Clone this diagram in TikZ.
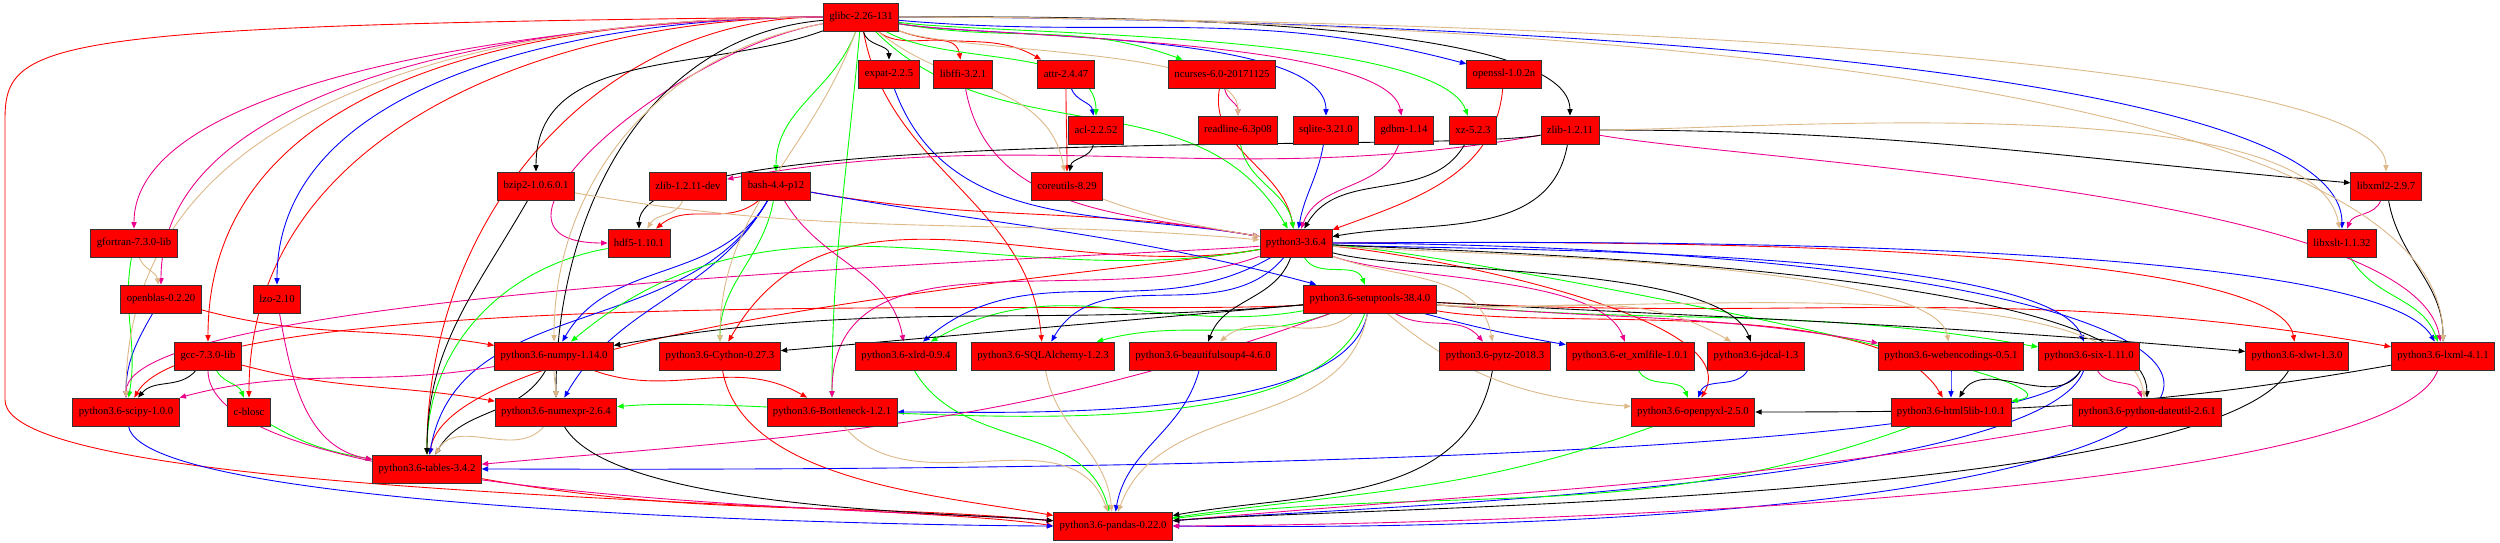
\documentclass[tikz,border=0pt]{standalone}
\usepackage{fontspec}
\setmainfont{Liberation Serif}
\usetikzlibrary{arrows.meta,backgrounds}
\definecolor{burly}{HTML}{DEB887}
\tikzset{
  pkg/.style={draw=black!80, fill=red, line width=0.2pt, minimum height=7pt,
    inner xsep=1.5pt, inner ysep=0.5pt, font=\fontsize{2.68}{3}\selectfont},
  dep/.style={-{Triangle[length=1.6pt,width=1.3pt]}, line width=0.22pt},
}
\begin{document}
\begin{tikzpicture}[x=0.25pt,y=-0.25pt]
    \useasboundingbox (0,0) rectangle (2500,543);

    % 1. Верхние уровни (glibc и системные библиотеки)
    \node[pkg] (glibc) at (861,17) {glibc-2.26-131};
    \node[pkg] (expat) at (889,74) {expat-2.2.5};
    \node[pkg] (libffi) at (963,74) {libffi-3.2.1};
    \node[pkg] (attr) at (1066,74) {attr-2.4.47};
    \node[pkg] (ncurses) at (1222,74) {ncurses-6.0-20171125};
    \node[pkg] (openssl) at (1504,74) {openssl-1.0.2n};
    \node[pkg] (acl) at (1096,130) {acl-2.2.52};
    \node[pkg] (readline) at (1238,130) {readline-6.3p08};
    \node[pkg] (sqlite) at (1326,130) {sqlite-3.21.0};
    \node[pkg] (gdbm) at (1404,130) {gdbm-1.14};
    \node[pkg] (xz) at (1473,130) {xz-5.2.3};
    \node[pkg] (zlib) at (1570,130) {zlib-1.2.11};
    \node[pkg] (bzip) at (536,186) {bzip2-1.0.6.0.1};
    \node[pkg] (zlibdev) at (688,186) {zlib-1.2.11-dev};
    \node[pkg] (bash) at (776,186) {bash-4.4-p12};
    \node[pkg] (coreutils) at (1067,186) {coreutils-8.29};
    \node[pkg] (libxml) at (2386,186) {libxml2-2.9.7};
    \node[pkg] (gfortran) at (134,243) {gfortran-7.3.0-lib};
    \node[pkg] (hdf) at (639,243) {hdf5-1.10.1};
    \node[pkg] (python) at (1296,243) {python3-3.6.4};
    \node[pkg] (libxslt) at (2342,243) {libxslt-1.1.32};
    \node[pkg] (openblas) at (161,299) {openblas-0.2.20};
    \node[pkg] (lzo) at (277,299) {lzo-2.10};
    \node[pkg] (setuptools) at (1370,299) {python3.6-setuptools-38.4.0};

    % 2. Пакеты python3.6
    \node[pkg] (gcc) at (208,356) {gcc-7.3.0-lib};
    \node[pkg] (numpy) at (554,356) {python3.6-numpy-1.14.0};
    \node[pkg] (cython) at (720,356) {python3.6-Cython-0.27.3};
    \node[pkg] (xlrd) at (906,356) {python3.6-xlrd-0.9.4};
    \node[pkg] (sqlalchemy) at (1043,356) {python3.6-SQLAlchemy-1.2.3};
    \node[pkg] (bsoup) at (1203,356) {python3.6-beautifulsoup4-4.6.0};
    \node[pkg] (pytz) at (1495,356) {python3.6-pytz-2018.3};
    \node[pkg] (etxml) at (1630,356) {python3.6-et\_xmlfile-1.0.1};
    \node[pkg] (jdcal) at (1756,356) {python3.6-jdcal-1.3};
    \node[pkg] (webenc) at (1951,356) {python3.6-webencodings-0.5.1};
    \node[pkg] (six) at (2089,356) {python3.6-six-1.11.0};
    \node[pkg] (xlwt) at (2297,356) {python3.6-xlwt-1.3.0};
    \node[pkg] (lxml) at (2443,356) {python3.6-lxml-4.1.1};
    \node[pkg] (scipy) at (126,412) {python3.6-scipy-1.0.0};
    \node[pkg] (blosc) at (249,412) {c-blosc};
    \node[pkg] (numexpr) at (556,412) {python3.6-numexpr-2.6.4};
    \node[pkg] (bottleneck) at (832,412) {python3.6-Bottleneck-1.2.1};
    \node[pkg] (openpyxl) at (1693,412) {python3.6-openpyxl-2.5.0};
    \node[pkg] (html) at (1951,412) {python3.6-html5lib-1.0.1};
    \node[pkg] (dateutil) at (2147,412) {python3.6-python-dateutil-2.6.1};
    \node[pkg] (tables) at (427,469) {python3.6-tables-3.4.2};
    \node[pkg] (pandas) at (1113,526) {python3.6-pandas-0.22.0};

    \begin{scope}[on background layer]
    \fill[white] (0,0) rectangle (2500,543);

    % 3. Красные зависимости
    \foreach \src/\dst/\aout/\ain/\lsc in {
        glibc/libffi/-40/100/1, glibc/attr/-20/150/1, glibc/tables/180/90/1,
        glibc/blosc/180/90/1, glibc/gcc/180/90/1, glibc/sqlalchemy/-80/95/1,
        attr/coreutils/-90/90/1, ncurses/python/-100/100/1, openssl/python/-95/20/1,
        bash/python/-10/170/1, bash/hdf/-140/40/1, gcc/numexpr/-15/170/1,
        openblas/numpy/-15/170/1, numpy/bottleneck/-20/150/1, setuptools/scipy/185/60/0.3,
        python/tables/190/80/0.4, tables/pandas/-10/175/1, cython/pandas/-80/170/0.8,
        python/cython/190/60/1, python/openpyxl/-5/60/0.6, python/xlwt/0/100/0.3,
        setuptools/lxml/-3/170/1, setuptools/html/-10/120/0.6}
      \draw[dep,red] (\src) to[out=\aout,in=\ain,looseness=\lsc] (\dst);
    \draw[dep,red] (glibc.west) .. controls (40,25) and (5,40) .. (5,120)
      -- (5,400) .. controls (5,500) and (900,500) .. (pandas.west);

    % 4. Синие зависимости
    \foreach \src/\dst/\aout/\ain/\lsc in {
        glibc/openssl/-5/165/1, glibc/sqlite/-10/90/0.5, glibc/libxslt/0/90/0.35,
        glibc/lzo/180/90/0.9, attr/acl/-70/100/1, expat/python/-70/170/1,
        sqlite/python/-100/80/1, bash/setuptools/-10/165/1, bash/numpy/-120/60/1,
        bash/tables/-120/80/1, bash/numexpr/-120/60/1, openblas/scipy/-120/90/1,
        scipy/pandas/-80/180/0.25, six/tables/-120/0/0.2, bsoup/pandas/-105/80/1,
        six/pandas/-110/5/0.35, setuptools/etxml/-15/170/1, setuptools/bottleneck/-100/0/0.6,
        python/sqlalchemy/-130/60/1, python/xlrd/-150/40/1, python/six/-3/110/0.35,
        python/lxml/0/120/0.3, jdcal/openpyxl/-120/70/1, webenc/html/-90/90/1}
      \draw[dep,blue] (\src) to[out=\aout,in=\ain,looseness=\lsc] (\dst);
    \draw[dep,blue] (python.east) .. controls (2480,250) and (2450,540) .. (pandas.east);

    % 5. Зелёные зависимости
    \foreach \src/\dst/\aout/\ain/\lsc in {
        glibc/ncurses/-10/160/1, glibc/acl/-30/90/0.8, glibc/xz/-8/110/0.4,
        glibc/python/-45/120/1, glibc/bash/-110/90/1, glibc/bottleneck/-95/90/1,
        readline/python/-80/100/1, libxslt/lxml/-60/110/1, bash/cython/-100/90/1,
        hdf/tables/190/90/1, blosc/tables/-30/170/1, gcc/blosc/-60/110/1,
        gfortran/scipy/-100/80/1, xlrd/pandas/-60/105/1, openpyxl/pandas/-160/8/1,
        html/pandas/-160/7/1, setuptools/xlrd/190/30/1, setuptools/sqlalchemy/-160/15/1,
        setuptools/numexpr/-110/5/0.6, setuptools/six/-5/170/1, python/setuptools/-60/110/1,
        python/numpy/190/40/1, python/html/-3/10/0.4, etxml/openpyxl/-60/110/1}
      \draw[dep,green] (\src) to[out=\aout,in=\ain,looseness=\lsc] (\dst);

    % 6. Пурпурные зависимости
    \foreach \src/\dst/\aout/\ain/\lsc in {
        glibc/gdbm/-10/100/0.4, glibc/hdf/190/180/1.3, glibc/openblas/180/90/0.8,
        glibc/gfortran/180/90/0.6, ncurses/readline/-80/90/1, libffi/python/-80/170/1,
        gdbm/python/-110/70/1, zlib/zlibdev/190/10/1, zlib/lxml/-10/100/0.45,
        libxml/libxslt/-110/70/1, bash/xlrd/-60/100/1, lzo/tables/-80/170/1,
        gcc/pandas/-90/175/0.4, numpy/scipy/190/15/1, python/scipy/185/90/0.25,
        setuptools/tables/-160/5/1, dateutil/pandas/-170/5/1, lxml/pandas/-110/0/0.3,
        setuptools/pytz/-30/130/1, setuptools/webenc/-5/170/1, python/bottleneck/-160/90/1,
        python/etxml/-20/110/0.6, six/dateutil/-60/110/1}
      \draw[dep,magenta] (\src) to[out=\aout,in=\ain,looseness=\lsc] (\dst);

    % 7. Чёрные зависимости
    \foreach \src/\dst/\aout/\ain/\lsc in {
        glibc/expat/-80/90/1, glibc/zlib/0/90/0.4, glibc/bzip/200/90/1,
        glibc/numexpr/185/90/1, acl/coreutils/-100/80/1, xz/python/-120/60/1,
        zlib/python/-100/10/1, zlib/hdf/190/90/0.3, zlib/libxml/0/175/1,
        libxml/lxml/-80/90/1, bzip/tables/-120/90/1, numpy/tables/-120/60/1,
        gcc/scipy/-130/50/1, numexpr/pandas/-60/175/0.5, pytz/pandas/-100/10/1,
        xlwt/pandas/-120/5/0.35, setuptools/numpy/185/10/1, setuptools/cython/185/5/1,
        setuptools/xlwt/-3/175/1, python/bsoup/-110/70/1, python/jdcal/-15/110/0.5,
        python/dateutil/-3/90/0.4, lxml/openpyxl/-170/0/1, six/html/-120/60/1}
      \draw[dep,black] (\src) to[out=\aout,in=\ain,looseness=\lsc] (\dst);

    % 8. Светло-коричневые зависимости
    \foreach \src/\dst/\aout/\ain/\lsc in {
        glibc/readline/-20/90/0.5, glibc/coreutils/-40/100/1, glibc/libxml/0/90/0.25,
        glibc/lxml/0/90/0.5, glibc/cython/-110/90/1, glibc/numpy/190/90/1,
        glibc/scipy/180/90/1, coreutils/python/-20/170/1, bzip/python/-10/175/1,
        zlib/libxslt/0/100/0.5, zlibdev/hdf/-110/60/1, gfortran/openblas/-70/100/1,
        numpy/numexpr/-90/90/1, numexpr/tables/-130/60/1, bottleneck/pandas/-50/110/1,
        sqlalchemy/pandas/-80/95/1, setuptools/pandas/-100/70/1, setuptools/bsoup/-140/40/1,
        setuptools/openpyxl/-40/175/1, setuptools/jdcal/-5/150/1, setuptools/dateutil/-5/100/0.5,
        python/pytz/-20/100/1, python/webenc/-5/100/0.35}
      \draw[dep,burly] (\src) to[out=\aout,in=\ain,looseness=\lsc] (\dst);
    \end{scope}

\end{tikzpicture}
\end{document}
